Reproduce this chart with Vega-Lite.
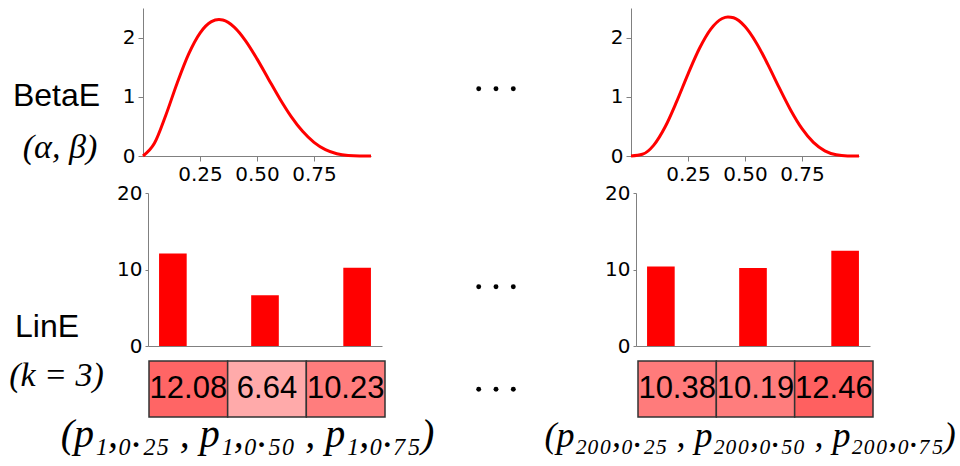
{
"$schema": "https://vega.github.io/schema/vega-lite/v6.json",
"padding": {"left": 0, "top": 8, "right": 0, "bottom": 0},
"background": "#ffffff",
"columns": 4,
"align": "each",
"bounds": "flush",
"spacing": 0,
"datasets": {
"labels1": [{"t": "BetaE"}, {"t": "(α, β)"}],
"labels2": [{"t": "LinE"}],
"labels3": [{"t": "(k = 3)"}],
"labels4": [{"t": "(p₁,₀.₂₅ , p₁,₀.₅₀ , p₁,₀.₇₅)"}],
"labels5": [{"t": "(p₂₀₀,₀.₂₅ , p₂₀₀,₀.₅₀ , p₂₀₀,₀.₇₅)"}],
"dots": [{"i": 0}, {"i": 1}, {"i": 2}],
"empty": [],
"beta1": [{"x":0,"d":0},{"x":0.05,"d":0.2138},{"x":0.1,"d":0.6889},{"x":0.15,"d":1.2333},{"x":0.2,"d":1.7203},{"x":0.25,"d":2.0764},{"x":0.3,"d":2.2689},{"x":0.3333,"d":2.3045},{"x":0.35,"d":2.296},{"x":0.4,"d":2.1773},{"x":0.45,"d":1.9456},{"x":0.5,"d":1.6406},{"x":0.55,"d":1.3025},{"x":0.6,"d":0.9677},{"x":0.65,"d":0.6657},{"x":0.7,"d":0.4167},{"x":0.75,"d":0.2307},{"x":0.8,"d":0.1075},{"x":0.85,"d":0.0384},{"x":0.9,"d":0.0085},{"x":0.95,"d":0.0006},{"x":1,"d":0}],
"beta2": [{"x":0,"d":0},{"x":0.05,"d":0.0285},{"x":0.1,"d":0.1837},{"x":0.15,"d":0.4933},{"x":0.2,"d":0.9175},{"x":0.25,"d":1.3843},{"x":0.3,"d":1.8152},{"x":0.35,"d":2.143},{"x":0.4,"d":2.3224},{"x":0.425,"d":2.3496},{"x":0.45,"d":2.3348},{"x":0.5,"d":2.1875},{"x":0.55,"d":1.9103},{"x":0.6,"d":1.5483},{"x":0.65,"d":1.1539},{"x":0.7,"d":0.7779},{"x":0.75,"d":0.4614},{"x":0.8,"d":0.2294},{"x":0.85,"d":0.0871},{"x":0.9,"d":0.0204},{"x":0.95,"d":0.0015},{"x":1,"d":0}],
"q1": [{"q": "0.25", "v": 12.08}, {"q": "0.50", "v": 6.64}, {"q": "0.75", "v": 10.23}],
"q2": [{"q": "0.25", "v": 10.38}, {"q": "0.50", "v": 10.19}, {"q": "0.75", "v": 12.46}]
},
"concat": [
{"width": 143, "height": 185, "data": {"name": "labels1"},
 "layer": [
  {"transform": [{"filter": "datum.t === 'BetaE'"}],
   "mark": {"type": "text", "font": "Liberation Sans", "fontSize": 32, "baseline": "alphabetic", "align": "center", "color": "#000000"},
   "encoding": {
    "x": {"field": "t", "type": "nominal", "scale": {"type": "point", "align": 0.3951}, "axis": null},
    "y": {"field": "t", "type": "nominal", "scale": {"type": "point", "align": 0.5281}, "axis": null},
    "text": {"field": "t"}}},
  {"transform": [{"filter": "datum.t !== 'BetaE'"}],
   "mark": {"type": "text", "font": "Liberation Serif", "fontStyle": "italic", "fontSize": 34, "baseline": "alphabetic", "align": "center", "color": "#000000"},
   "encoding": {
    "x": {"field": "t", "type": "nominal", "scale": {"type": "point", "align": 0.4196}, "axis": null},
    "y": {"field": "t", "type": "nominal", "scale": {"type": "point", "align": 0.8108}, "axis": null},
    "text": {"field": "t"}}}
 ],
 "resolve": {"scale": {"x": "independent", "y": "independent"}}},
{"width": 228, "height": 148, "data": {"name": "beta1"},
 "mark": {"type": "line", "color": "#ff0000", "strokeWidth": 3, "interpolate": "monotone"},
 "encoding": {
  "x": {"field": "x", "type": "quantitative", "scale": {"domain": [0, 1], "nice": false, "zero": false}, "axis": {"values": [0.25, 0.5, 0.75], "format": ".2f", "tickSize": 5, "labelPadding": 3}},
  "y": {"field": "d", "type": "quantitative", "scale": {"domain": [0, 2.5], "nice": false}, "axis": {"values": [0, 1, 2], "tickSize": 5, "labelPadding": 3}}}},
{"width": 246, "height": 185, "data": {"name": "dots"},
 "mark": {"type": "circle", "color": "#000000", "opacity": 1, "size": 24},
 "encoding": {
  "x": {"field": "i", "type": "quantitative", "scale": {"domain": [-5.416, 8.803], "nice": false, "zero": false}, "axis": null},
  "y": {"datum": "row", "type": "nominal", "scale": {"type": "point", "align": 0.4362}, "axis": null}}},
{"width": 228, "height": 148, "data": {"name": "beta2"},
 "mark": {"type": "line", "color": "#ff0000", "strokeWidth": 3, "interpolate": "monotone"},
 "encoding": {
  "x": {"field": "x", "type": "quantitative", "scale": {"domain": [0, 1], "nice": false, "zero": false}, "axis": {"values": [0.25, 0.5, 0.75], "format": ".2f", "tickSize": 5, "labelPadding": 3}},
  "y": {"field": "d", "type": "quantitative", "scale": {"domain": [0, 2.5], "nice": false}, "axis": {"values": [0, 1, 2], "tickSize": 5, "labelPadding": 3}}}},

{"width": 143, "height": 168, "data": {"name": "labels2"},
 "mark": {"type": "text", "font": "Liberation Sans", "fontSize": 32, "baseline": "alphabetic", "align": "center", "color": "#000000"},
 "encoding": {
  "x": {"field": "t", "type": "nominal", "scale": {"type": "point", "align": 0.3287}, "axis": null},
  "y": {"field": "t", "type": "nominal", "scale": {"type": "point", "align": 0.8554}, "axis": null},
  "text": {"field": "t"}}},
{"width": 239, "height": 153, "data": {"name": "q1"},
 "mark": {"type": "bar", "color": "#ff0000"},
 "encoding": {
  "x": {"field": "q", "type": "nominal", "sort": null, "scale": {"type": "band", "range": [5, 239], "paddingInner": 0.7, "paddingOuter": 0.12}, "axis": {"labels": false, "ticks": false, "domain": true}},
  "y": {"field": "v", "type": "quantitative", "scale": {"domain": [0, 20], "nice": false}, "axis": {"values": [0, 10, 20], "tickSize": 3, "labelPadding": 3, "offset": -5}}}},
{"width": 246, "height": 168, "data": {"name": "dots"},
 "mark": {"type": "circle", "color": "#000000", "opacity": 1, "size": 24},
 "encoding": {
  "x": {"field": "i", "type": "quantitative", "scale": {"domain": [-5.416, 8.803], "nice": false, "zero": false}, "axis": null},
  "y": {"datum": "row", "type": "nominal", "scale": {"type": "point", "align": 0.5577}, "axis": null}}},
{"width": 239, "height": 153, "data": {"name": "q2"},
 "mark": {"type": "bar", "color": "#ff0000"},
 "encoding": {
  "x": {"field": "q", "type": "nominal", "sort": null, "scale": {"type": "band", "range": [5, 239], "paddingInner": 0.7, "paddingOuter": 0.12}, "axis": {"labels": false, "ticks": false, "domain": true}},
  "y": {"field": "v", "type": "quantitative", "scale": {"domain": [0, 20], "nice": false}, "axis": {"values": [0, 10, 20], "tickSize": 3, "labelPadding": 3, "offset": -5}}}},

{"width": 143, "height": 56, "data": {"name": "labels3"},
 "mark": {"type": "text", "font": "Liberation Serif", "fontStyle": "italic", "fontSize": 34, "baseline": "alphabetic", "align": "center", "color": "#000000"},
 "encoding": {
  "x": {"field": "t", "type": "nominal", "scale": {"type": "point", "align": 0.3951}, "axis": null},
  "y": {"field": "t", "type": "nominal", "scale": {"type": "point", "align": 0.455}, "axis": null},
  "text": {"field": "t"}}},
{"width": 242, "height": 56, "data": {"name": "q1"},
 "encoding": {"x": {"field": "q", "type": "nominal", "sort": null, "scale": {"type": "band", "range": [6, 242], "paddingInner": 0, "paddingOuter": 0}, "axis": null}},
 "layer": [
  {"mark": {"type": "rect", "stroke": "#333333", "strokeWidth": 1.5},
   "encoding": {"fill": {"field": "v", "type": "quantitative", "scale": {"type": "linear", "domain": [0, 20], "range": ["#ffffff", "#ff0000"], "interpolate": "rgb"}, "legend": null}}},
  {"mark": {"type": "text", "font": "Liberation Sans", "fontSize": 31, "color": "#000000", "baseline": "middle", "align": "center"},
   "encoding": {"text": {"field": "v", "type": "quantitative", "format": ".2f"}}}
 ]},
{"width": 246, "height": 56, "data": {"name": "dots"},
 "mark": {"type": "circle", "color": "#000000", "opacity": 1, "size": 24},
 "encoding": {
  "x": {"field": "i", "type": "quantitative", "scale": {"domain": [-5.416, 8.803], "nice": false, "zero": false}, "axis": null},
  "y": {"datum": "row", "type": "nominal", "scale": {"type": "point", "align": 0.505}, "axis": null}}},
{"width": 243, "height": 56, "data": {"name": "q2"},
 "encoding": {"x": {"field": "q", "type": "nominal", "sort": null, "scale": {"type": "band", "range": [7, 242], "paddingInner": 0, "paddingOuter": 0}, "axis": null}},
 "layer": [
  {"mark": {"type": "rect", "stroke": "#333333", "strokeWidth": 1.5},
   "encoding": {"fill": {"field": "v", "type": "quantitative", "scale": {"type": "linear", "domain": [0, 20], "range": ["#ffffff", "#ff0000"], "interpolate": "rgb"}, "legend": null}}},
  {"mark": {"type": "text", "font": "Liberation Sans", "fontSize": 31, "color": "#000000", "baseline": "middle", "align": "center"},
   "encoding": {"text": {"field": "v", "type": "quantitative", "format": ".2f"}}}
 ]},

{"width": 143, "height": 49, "data": {"name": "empty"}, "mark": "point", "encoding": {}},
{"width": 242, "height": 49, "data": {"name": "labels4"},
 "mark": {"type": "text", "font": "Liberation Serif", "fontStyle": "italic", "fontSize": 40, "baseline": "alphabetic", "align": "center", "color": "#000000"},
 "encoding": {
  "x": {"field": "t", "type": "nominal", "scale": {"type": "point", "align": 0.432}, "axis": null},
  "y": {"field": "t", "type": "nominal", "scale": {"type": "point", "align": 0.612}, "axis": null},
  "text": {"field": "t"}}},
{"width": 246, "height": 49, "data": {"name": "empty"}, "mark": "point", "encoding": {}},
{"width": 243, "height": 49, "data": {"name": "labels5"},
 "mark": {"type": "text", "font": "Liberation Serif", "fontStyle": "italic", "fontSize": 36, "baseline": "alphabetic", "align": "center", "color": "#000000"},
 "encoding": {
  "x": {"field": "t", "type": "nominal", "scale": {"type": "point", "align": 0.49}, "axis": null},
  "y": {"field": "t", "type": "nominal", "scale": {"type": "point", "align": 0.612}, "axis": null},
  "text": {"field": "t"}}}
],
"config": {
 "view": {"stroke": null},
 "axis": {"grid": false, "title": null, "domainColor": "#808080", "tickColor": "#808080", "domainWidth": 1, "tickWidth": 1, "labelFont": "DejaVu Sans", "labelFontSize": 20, "labelColor": "#000000", "labelFlush": false},
 "legend": {"disable": true}
}
}
